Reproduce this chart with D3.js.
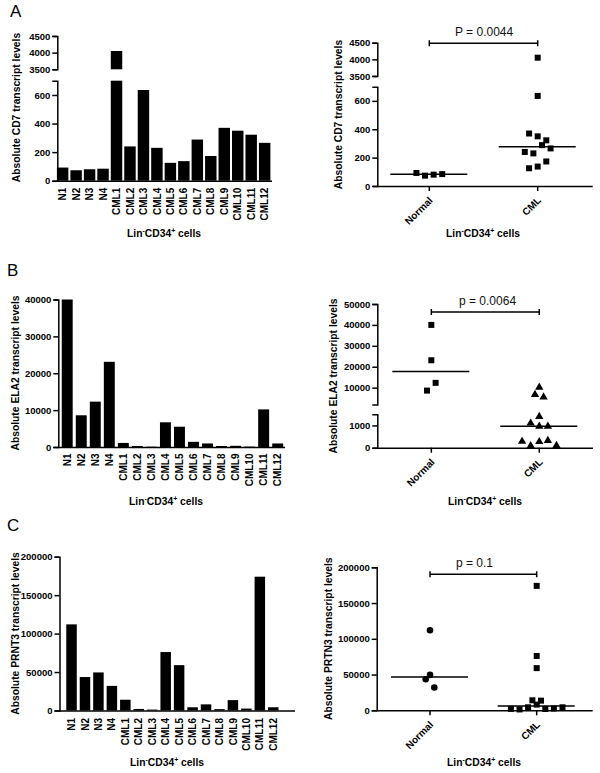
<!DOCTYPE html>
<html><head><meta charset="utf-8">
<script src="https://cdn.jsdelivr.net/npm/d3@7"></script>
<style>body{margin:0;background:#fff}svg{display:block}</style>
</head><body>
<svg id="chart" width="600" height="773"></svg>
<script>
// ---------- data ----------
const samples = ["N1","N2","N3","N4","CML1","CML2","CML3","CML4","CML5","CML6","CML7","CML8","CML9","CML10","CML11","CML12"];
const groups = ["Normal","CML"];
const cd7   = [92, 73, 80, 84, 4050, 240, 635, 230, 125, 137, 288, 173, 370, 350, 322, 265];
const ela2  = [40000, 8600, 12300, 23100, 1100, 280, 80, 6700, 5500, 1400, 960, 270, 320, 100, 10200, 960];
const prtn3 = [112000, 43500, 49500, 32000, 14000, 2000, 1200, 76000, 59000, 4200, 8000, 1800, 13500, 2500, 174000, 4200];

const cd7LowDomain = [0, 700], cd7HighDomain = [3500, 4500];
const cd7LowTicks = [0, 200, 400, 600], cd7HighTicks = [3500, 4000, 4500];
const ela2BarDomain = [0, 40000], ela2BarTicks = [0, 10000, 20000, 30000, 40000];
const ela2LowDomain = [0, 1500], ela2HighDomain = [2000, 50000];
const ela2LowTicks = [0, 1000], ela2HighTicks = [10000, 20000, 30000, 40000, 50000];
const prtn3Domain = [0, 200000], prtn3Ticks = [0, 50000, 100000, 150000, 200000];

const panelLetters = ["A", "B", "C"];
const pLabels = ["P = 0.0044", "p = 0.0064", "p = 0.1"];
const barYTitles = ["Absolute CD7 transcript levels", "Absolute ELA2 transcript levels", "Absolute PRNT3 transcript levels"];
const dotYTitles = ["Absolute CD7 transcript levels", "Absolute ELA2 transcript levels", "Absolute PRTN3 transcript levels"];

// ---------- drawing ----------
const FONT = "'Liberation Sans', Arial, Helvetica, sans-serif";
const svg = d3.select("#chart");
const groupOf = s => s.startsWith("N") ? "Normal" : "CML";

function yAxis(x, segs) {
  segs.forEach(seg => {
    const g = svg.append("g").attr("transform", `translate(${x},0)`)
      .call(d3.axisLeft(seg.scale).tickValues(seg.ticks).tickSize(5).tickSizeOuter(5).tickPadding(2).tickFormat(d3.format("d")));
    g.attr("font-family", FONT).attr("font-size", 9.5).attr("font-weight", "bold");
    g.selectAll("path,line").attr("stroke", "#000").attr("stroke-width", 1.5);
    g.selectAll("text").attr("fill", "#000");
  });
}

function yTitle(text, cx, cy) {
  svg.append("text").attr("transform", `translate(${cx},${cy}) rotate(-90)`)
    .attr("text-anchor", "middle").attr("dy", "0.35em")
    .attr("font-family", FONT).attr("font-size", 10.3).attr("font-weight", "bold").text(text);
}

function xTitle(cx, y) {
  const t = svg.append("text").attr("x", cx).attr("y", y).attr("text-anchor", "middle")
    .attr("font-family", FONT).attr("font-size", 10.3).attr("font-weight", "bold");
  t.append("tspan").text("Lin");
  t.append("tspan").attr("dy", -4).attr("font-size", 7).text("-");
  t.append("tspan").attr("dy", 4).text("CD34");
  t.append("tspan").attr("dy", -4).attr("font-size", 7).text("+");
  t.append("tspan").attr("dy", 4).text(" cells");
}

function makeSegs(defs) {
  return defs.map(d => ({domain: d.domain, ticks: d.ticks, scale: d3.scaleLinear().domain(d.domain).range(d.range)}));
}

function barChart(cfg, values) {
  const x = d3.scaleBand().domain(samples).range(cfg.band).paddingInner(cfg.pi).paddingOuter(cfg.po);
  const segs = makeSegs(cfg.segs);
  const rows = values.map((v, i) => ({v, s: samples[i]}));
  segs.forEach(seg => {
    const [lo, hi] = seg.domain, y = seg.scale;
    svg.append("g").selectAll("rect").data(rows.filter(d => d.v > lo)).join("rect")
      .attr("x", d => x(d.s)).attr("width", x.bandwidth())
      .attr("y", d => y(Math.min(d.v, hi)))
      .attr("height", d => y(lo) - y(Math.min(d.v, hi)))
      .attr("fill", "#000");
  });
  const y0 = segs[0].scale(0);
  svg.append("line").attr("x1", cfg.axisX).attr("x2", cfg.axisEnd).attr("y1", y0 + 0.5).attr("y2", y0 + 0.5)
    .attr("stroke", "#000").attr("stroke-width", 1.5);
  yAxis(cfg.axisX, segs);
  svg.append("g").selectAll("text").data(samples).join("text")
    .attr("transform", d => `translate(${x(d) + x.bandwidth() / 2},${y0 + cfg.labelGap}) rotate(-90)`)
    .attr("text-anchor", "end").attr("dy", "0.36em")
    .attr("font-family", FONT).attr("font-size", 10).attr("font-weight", "bold").text(d => d);
  yTitle(cfg.yTitle, cfg.yTitlePos[0], cfg.yTitlePos[1]);
  xTitle(cfg.xTitlePos[0], cfg.xTitlePos[1]);
}

function dotPlot(cfg, values, shapes) {
  const segs = makeSegs(cfg.segs);
  const xp = d3.scalePoint().domain(groups).range(cfg.pr).padding(0.48);
  const yOf = v => {
    let s = segs.find(sg => v >= sg.domain[0] && v <= sg.domain[1]);
    if (!s) s = v < segs[0].domain[0] ? segs[0] : segs[segs.length - 1];
    return s.scale(v);
  };
  const y0 = segs[0].scale(0);
  // axes
  svg.append("line").attr("x1", cfg.axisX).attr("x2", cfg.axisEnd).attr("y1", y0 + 0.5).attr("y2", y0 + 0.5)
    .attr("stroke", "#000").attr("stroke-width", 1.5);
  svg.append("g").selectAll("line").data(groups).join("line")
    .attr("x1", d => xp(d)).attr("x2", d => xp(d)).attr("y1", y0).attr("y2", y0 + 5)
    .attr("stroke", "#000").attr("stroke-width", 1.5);
  yAxis(cfg.axisX, segs);
  svg.append("g").selectAll("text").data(groups).join("text")
    .attr("transform", d => `translate(${xp(d) + 4},${y0 + 15}) rotate(-45)`)
    .attr("text-anchor", "end")
    .attr("font-family", FONT).attr("font-size", 10).attr("font-weight", "bold").text(d => d);
  // points with row-binned spreading
  const STEP = 8.6;
  groups.forEach((gname, gi) => {
    const pts = values.map((v, i) => ({v, i, y: yOf(v)})).filter(p => groupOf(samples[p.i]) === gname);
    const sorted = pts.slice().sort((a, b) => b.y - a.y);
    const rowsArr = [];
    let cur = null;
    sorted.forEach(p => {
      if (cur && cur.y0 - p.y < STEP) cur.items.push(p);
      else { cur = {y0: p.y, items: [p]}; rowsArr.push(cur); }
    });
    rowsArr.forEach(r => {
      r.items.sort((a, b) => a.i - b.i);
      const n = r.items.length;
      r.items.forEach((p, k) => { p.x = xp(gname) + (k - (n - 1) / 2) * STEP; });
    });
    const sym = shapes[gi];
    svg.append("g").selectAll("path").data(pts).join("path")
      .attr("transform", p => `translate(${p.x},${p.y})`)
      .attr("d", d3.symbol().type(sym.type).size(sym.size)())
      .attr("fill", "#000");
    const med = d3.median(pts, p => p.v);
    const my = yOf(med);
    svg.append("line").attr("x1", xp(gname) - 39).attr("x2", xp(gname) + 38)
      .attr("y1", my).attr("y2", my).attr("stroke", "#000").attr("stroke-width", 1.5);
  });
  // significance bracket
  const bx1 = xp("Normal"), bx2 = xp("CML"), by = cfg.bracketY;
  svg.append("path").attr("d", `M${bx1},${by - 3}V${by + 3}M${bx1},${by}H${bx2}M${bx2},${by - 3}V${by + 3}`)
    .attr("stroke", "#000").attr("stroke-width", 1.5).attr("fill", "none");
  svg.append("text").attr("x", cfg.pX).attr("y", by - 7)
    .attr("font-family", FONT).attr("font-size", 12).attr("fill", "#111").text(cfg.pLabel);
  yTitle(cfg.yTitle, cfg.yTitlePos[0], cfg.yTitlePos[1]);
  xTitle(cfg.xTitlePos[0], cfg.xTitlePos[1]);
}

// panel letters
[[10, 17], [7, 276], [7, 531]].forEach((p, i) => {
  svg.append("text").attr("x", p[0]).attr("y", p[1])
    .attr("font-family", FONT).attr("font-size", 17).text(panelLetters[i]);
});

// Panel A
barChart({
  band: [55.9, 271.4], pi: 0.15, po: 0.075, axisX: 57.3, axisEnd: 272, labelGap: 7,
  segs: [{domain: cd7LowDomain, ticks: cd7LowTicks, range: [180.7, 80.7]},
         {domain: cd7HighDomain, ticks: cd7HighTicks, range: [69.3, 36]}],
  yTitle: barYTitles[0], yTitlePos: [16.7, 107.5], xTitlePos: [164, 237]
}, cd7);
dotPlot({
  axisX: 377.3, axisEnd: 592.7, pr: [377.3, 589.7],
  segs: [{domain: cd7LowDomain, ticks: cd7LowTicks, range: [186, 86.7]},
         {domain: cd7HighDomain, ticks: cd7HighTicks, range: [76, 42.7]}],
  bracketY: 43.3, pX: 455, pLabel: pLabels[0],
  yTitle: dotYTitles[0], yTitlePos: [338.3, 114.5], xTitlePos: [483, 237]
}, cd7, [{type: d3.symbolSquare, size: 36}, {type: d3.symbolSquare, size: 36}]);

// Panel B
barChart({
  band: [60.2, 284.7], pi: 0.22, po: 0.11, axisX: 58.3, axisEnd: 285, labelGap: 6.5,
  segs: [{domain: ela2BarDomain, ticks: ela2BarTicks, range: [447, 299.5]}],
  yTitle: barYTitles[1], yTitlePos: [15, 373], xTitlePos: [166, 505]
}, ela2);
dotPlot({
  axisX: 377.3, axisEnd: 593, pr: [379.5, 591.1],
  segs: [{domain: ela2LowDomain, ticks: ela2LowTicks, range: [447.7, 414.3]},
         {domain: ela2HighDomain, ticks: ela2HighTicks, range: [404.4, 304]}],
  bracketY: 312, pX: 459, pLabel: pLabels[1],
  yTitle: dotYTitles[1], yTitlePos: [333.3, 376], xTitlePos: [485, 505]
}, ela2, [{type: d3.symbolSquare, size: 36}, {type: d3.symbolTriangle, size: 30}]);

// Panel C
barChart({
  band: [64.8, 280], pi: 0.22, po: 0.11, axisX: 59.5, axisEnd: 295, labelGap: 7.5,
  segs: [{domain: prtn3Domain, ticks: prtn3Ticks, range: [710.5, 556.7]}],
  yTitle: barYTitles[2], yTitlePos: [15, 633.5], xTitlePos: [167, 766]
}, prtn3);
dotPlot({
  axisX: 376.7, axisEnd: 592.7, pr: [378.8, 587.9],
  segs: [{domain: prtn3Domain, ticks: prtn3Ticks, range: [710.3, 567.3]}],
  bracketY: 574.3, pX: 456, pLabel: pLabels[2],
  yTitle: dotYTitles[2], yTitlePos: [328.3, 638.7], xTitlePos: [484, 766]
}, prtn3, [{type: d3.symbolCircle, size: 34}, {type: d3.symbolSquare, size: 36}]);
</script>
</body></html>
